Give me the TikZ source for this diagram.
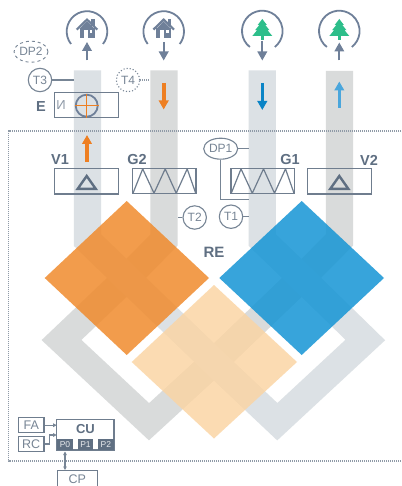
\documentclass[tikz,border=0pt]{standalone}
\usepackage{fontspec}
\setmainfont{Liberation Sans}
\usetikzlibrary{arrows.meta,shapes.geometric,calc}
\definecolor{slate}{HTML}{5F6F82}
\definecolor{iconc}{HTML}{6F8099}
\definecolor{ductA}{HTML}{DCE1E5}
\definecolor{ductB}{HTML}{D9DBDB}
\definecolor{orangeD}{HTML}{F08B2D}
\definecolor{blueD}{HTML}{1595D5}
\definecolor{peachD}{HTML}{FBD4A2}
\definecolor{treeg}{HTML}{2DBE8A}
\definecolor{arrO}{HTML}{EE7F22}
\definecolor{arrB}{HTML}{0A84C6}
\definecolor{arrL}{HTML}{4AA6DC}
\tikzset{
  duct/.style={line width=27.3pt,miter limit=10},
  thin box/.style={draw=slate!90,line width=1.3pt,rectangle,inner sep=0pt,fill=none},
  lab/.style={inner sep=0pt,text=slate,font=\fontsize{14.5}{15}\selectfont\bfseries},
  small/.style={inner sep=0pt,text=slate!85,font=\fontsize{12}{13}\selectfont},
  tcirc/.style={small,draw=slate!85,line width=1.1pt,circle,minimum size=23.4pt},
  dpell/.style={small,draw=slate!85,line width=1.1pt,ellipse,minimum width=34pt,minimum height=21pt},
  conn/.style={draw=slate!85,line width=1.1pt},
  dots/.style={draw=slate!70,line width=1.1pt,dash pattern=on 1pt off 1pt},
  bigarrow/.style={line width=3.6pt,-{Triangle[length=9pt,width=9.5pt]}},
  iconarrow/.style={draw=iconc,color=iconc,line width=2pt,-{Triangle[length=9pt,width=9.5pt]}},
  ring/.style={draw=iconc,line width=1.8pt},
  port/.style={fill=slate,inner sep=0pt,minimum height=11pt,text=white!85!slate,font=\fontsize{8.5}{9}\selectfont}
}
\newcommand{\ringicon}[3]{\draw[ring] (#1,#2) ++(#3:20.3) arc[start angle=#3,end angle=540-#3,radius=20.3];}
\newcommand{\houseicon}[1]{%
  \begin{scope}[shift={(#1,0)}]
    \fill[iconc] (-7.5,28) rectangle (7.5,38.4);
    \fill[iconc] (4.2,19.5) rectangle (7.6,26);
    \draw[iconc,line width=2.2pt,line join=miter] (-10.3,29.6) -- (0,19.6) -- (10.3,29.6);
    \fill[iconc] (-7.5,29) -- (0,21.5) -- (7.5,29) -- cycle;
    \fill[white] (-3.4,30.5) rectangle (0.6,38.4);
    \fill[white] (2.6,30.5) rectangle (5.2,33.5);
  \end{scope}}
\newcommand{\treeicon}[1]{%
  \begin{scope}[shift={(#1,0)}]
    \fill[white] (-2,36) rectangle (2,40);
    \fill[treeg] (-1.3,35) rectangle (1.3,40);
    \fill[treeg] (0,19) -- (4.6,25) -- (3,25) -- (7.2,30.2) -- (5.2,30.2) -- (10,36)
       -- (-10,36) -- (-5.2,30.2) -- (-7.2,30.2) -- (-3,25) -- (-4.6,25) -- cycle;
  \end{scope}}
\newcommand{\zigzag}[2]{\draw[draw=slate!90,line width=1.2pt,line join=bevel,shift={(#1,#2)}]
  (0.3,24.5)--(10,0.2)--(21.3,24.5)--(32.5,0.2)--(43.5,24.5)--(54.5,0.2)--(63,24.5);}
\begin{document}
\begin{tikzpicture}[x=1pt,y=-1pt]
\useasboundingbox (0,0) rectangle (401,486);
\fill[white] (0,0) rectangle (401,486);
% reference points of the duct network
\coordinate (oc) at (126.7,278);
\coordinate (bc) at (301.7,278);
\coordinate (pc) at (214,362);
% ducts
\draw[duct,ductB] (164,70.5) -- (164,240) -- (oc) -- (61.5,340) -- (149,421.7) -- (pc) -- (bc) -- (339.4,240) -- (339.4,71);
\draw[duct,ductA] (87.4,70.5) -- (87.4,240) -- (oc) -- (pc) -- (277.3,421.7) -- (365.3,340) -- (bc) -- (262.2,240) -- (262.2,70.5);
% heat exchanger diamonds
\fill[orangeD,fill opacity=.85] (126.7,201) -- (209,278) -- (126.7,355) -- (44.7,278) -- cycle;
\fill[blueD,fill opacity=.85] (301.7,201) -- (384,278) -- (301.7,355) -- (219.3,278) -- cycle;
\fill[peachD,fill opacity=.82] (214,285) -- (297,362) -- (214,438.5) -- (131.7,362) -- cycle;
% dotted enclosure
\draw[dots] (401,131) -- (8.7,131) -- (8.7,461) -- (401,461);
% top icons
\ringicon{87}{31.5}{142}\ringicon{163.7}{31.5}{142}\ringicon{262.3}{31}{128}\ringicon{339.3}{31}{128}
\houseicon{87}\houseicon{163.7}\treeicon{262.3}\treeicon{339.3}
\coordinate (ia1) at (87,60.5);   \coordinate (ib1) at (87,42);
\coordinate (ia2) at (163.7,42);  \coordinate (ib2) at (163.7,60.5);
\coordinate (ia3) at (262.3,41);  \coordinate (ib3) at (262.3,60.5);
\coordinate (ia4) at (339.3,60.5);\coordinate (ib4) at (339.3,42.5);
\draw[iconarrow] (ia1) -- (ib1);
\draw[iconarrow] (ia2) -- (ib2);
\draw[iconarrow] (ia3) -- (ib3);
\draw[iconarrow] (ia4) -- (ib4);
% flow arrows
\coordinate (fa1) at (87,162);    \coordinate (fb1) at (87,135);
\coordinate (fa2) at (163.7,83);  \coordinate (fb2) at (163.7,109.5);
\coordinate (fa3) at (262.3,83);  \coordinate (fb3) at (262.3,110);
\coordinate (fa4) at (339.3,108); \coordinate (fb4) at (339.3,81.5);
\draw[bigarrow,arrO] (fa1) -- (fb1);
\draw[bigarrow,arrO] (fa2) -- (fb2);
\draw[bigarrow,arrB] (fa3) -- (fb3);
\draw[bigarrow,arrL,line width=3pt] (fa4) -- (fb4);
% sensors
\node[dpell,dashed,line width=.9pt] (dp2) at (31,51.7) {DP2};
\node[tcirc] (t3) at (40,80) {T3};
\node[tcirc,dotted] (t4) at (128,80) {T4};
\node[tcirc] (t2) at (194.7,217.5) {T2};
\node[tcirc] (t1) at (231,216.7) {T1};
\node[dpell] (dp1) at (220.7,148.7) {DP1};
\coordinate (d3) at (73.7,80);
\coordinate (d4) at (150,80);
\coordinate (d2) at (178,217.5);
\coordinate (d1) at (248.5,216.7);
\coordinate (dq) at (248.5,148.7);
\coordinate (dr) at (248.5,199.3);
\draw[conn] (t3) -- (d3);
\draw[dots] (t4) -- (d4);
\draw[conn] (t2) -- (d2);
\draw[conn] (t1) -- (d1);
\draw[conn] (dp1) -- (dq);
\draw[conn] (dp1.south) |- (dr);
% component boxes
\node[thin box,minimum width=63.6pt,minimum height=25pt] (ebox) at (86.5,104.8) {};
\node[lab] (elab) at (41,106.5) {E};
\node[inner sep=0pt,text=slate!70,font=\fontsize{13}{14}\selectfont] (ei) at (61,105.5) {И};
\node[draw=iconc,line width=1.8pt,circle,minimum size=22pt,inner sep=0pt] (heater) at (86.7,105.7) {};
\draw[arrO,line width=1.4pt] (heater.west) -- (heater.east);
\draw[arrO,line width=1.4pt] (heater.north) -- (heater.south);
\node[thin box,minimum width=63.6pt,minimum height=25.5pt] (v1) at (86.5,181.3) {};
\node[thin box,minimum width=63.4pt,minimum height=24.5pt] (g2) at (164.4,181) {};
\node[thin box,minimum width=63.4pt,minimum height=24.5pt] (g1) at (262.7,181) {};
\node[thin box,minimum width=64.4pt,minimum height=25.5pt] (v2) at (339.5,181.3) {};
\node[lab] (v1l) at (60,159.5) {V1};
\node[lab] (g2l) at (137,159.5) {G2};
\node[lab] (g1l) at (290,160) {G1};
\node[lab] (v2l) at (369,160) {V2};
\node[lab,font=\fontsize{15}{16}\selectfont\bfseries] (re) at (214,252.7) {RE};
\foreach \cx in {86.7,339.3}{
  \draw[slate,line width=2.4pt,line join=miter] (\cx,176) -- (\cx+9,188.8) -- (\cx-9,188.8) -- cycle;
}
\zigzag{132.7}{168.7}
\zigzag{231}{168.7}
% control unit
\node[thin box,minimum width=57.4pt,minimum height=30.7pt] (cu) at (85.4,434.7) {};
\node[lab,font=\fontsize{13}{14}\selectfont\bfseries] (cul) at (85.4,429) {CU};
\node[port,minimum width=15.6pt] (p0) at (65,444.7) {P0};
\node[port,minimum width=15.6pt] (p1) at (85.5,444.7) {P1};
\node[port,minimum width=16.6pt] (p2) at (105.8,444.7) {P2};
\node[thin box,small,minimum width=25.7pt,minimum height=15pt,font=\fontsize{12.5}{13}\selectfont] (fa) at (31.2,425.2) {FA};
\node[thin box,small,minimum width=25.7pt,minimum height=14.5pt,font=\fontsize{12.5}{13}\selectfont] (rc) at (31.2,443.9) {RC};
\node[thin box,small,minimum width=40pt,minimum height=17pt,font=\fontsize{12.5}{13}\selectfont] (cp) at (77.3,479.2) {CP};
\coordinate (cua) at (56.7,425.2);
\coordinate (cub) at (56.7,435);
\coordinate (rcm) at (49.3,444);
\coordinate (p0b) at (65,451.5);
\coordinate (cpt) at (65,470);
\draw[conn,-{Triangle[length=3.5pt,width=3.5pt]}] (fa) -- (cua);
\draw[conn,-{Triangle[length=3.5pt,width=3.5pt]}] (rc.east |- rcm) -- (rcm) |- (cub);
\draw[conn,{Triangle[length=3.5pt,width=3.5pt]}-{Triangle[length=3.5pt,width=3.5pt]}] (p0b) -- (cpt);
\end{tikzpicture}
\end{document}
